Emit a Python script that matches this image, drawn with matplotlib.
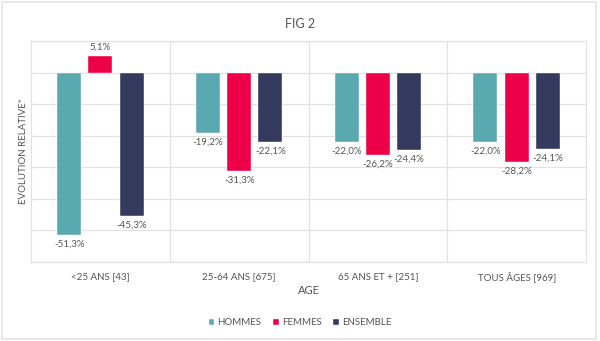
import matplotlib
matplotlib.use("Agg")
import matplotlib.pyplot as plt
from matplotlib.patches import Rectangle
import numpy as np

plt.rcParams['font.family'] = ['Lato', 'DejaVu Sans']

categories = ["<25 ANS [43]", "25-64 ANS [675]", "65 ANS ET + [251]", "TOUS ÂGES [969]"]
series_names = ["HOMMES", "FEMMES", "ENSEMBLE"]
hommes = [-51.3, -19.2, -22.0, -22.0]
femmes = [5.1, -31.3, -26.2, -28.2]
ensemble = [-45.3, -22.1, -24.4, -24.1]
colors = ["#5aa9b0", "#ee0048", "#333a5e"]

fig = plt.figure(figsize=(6, 3.41), dpi=100)
fig.patches.append(Rectangle((0.004, 0.006), 0.99, 0.987, transform=fig.transFigure,
                             fill=False, edgecolor="#e4e4e4", linewidth=1.2))
ax = fig.add_axes([0.0517, 0.2317, 0.925, 0.648])

x = np.arange(len(categories))
w = 0.172
step = 0.225
txtcol = "#555555"
for i, (vals, name, c) in enumerate(zip([hommes, femmes, ensemble], series_names, colors)):
    pos = x + (i - 1) * step
    ax.bar(pos, vals, width=w, color=c, label=name, zorder=3, edgecolor="white", linewidth=0.3)
    for p, v in zip(pos, vals):
        lab = f"{v:.1f}%".replace(".", ",")
        if v >= 0:
            ax.text(p, v + 1.5, lab, ha="center", va="bottom", fontsize=7, color=txtcol)
        else:
            ax.text(p, v - 1.5, lab, ha="center", va="top", fontsize=7, color=txtcol)

ax.set_xlim(-0.5, len(categories) - 0.5)
ax.set_ylim(-60, 10)
ax.set_yticks(np.arange(-60, 11, 10))
ax.set_yticklabels([])
ax.tick_params(axis="y", length=0)
ax.set_xticks(x)
ax.set_xticklabels(categories, fontsize=7, color=txtcol)
ax.tick_params(axis="x", length=0, pad=7)
ax.set_xticks(np.arange(0.5, len(categories) - 0.5, 1), minor=True)
ax.tick_params(axis="x", which="minor", length=0)
ax.grid(axis="y", color="#e2e2e2", linewidth=0.9, zorder=0)
ax.grid(axis="x", which="minor", color="#e2e2e2", linewidth=0.9, zorder=0)
for s in ax.spines.values():
    s.set_color("#e2e2e2")
    s.set_linewidth(0.9)

ax.set_xlabel("AGE", fontsize=8, color=txtcol, labelpad=2)
ax.set_ylabel("EVOLUTION RELATIVE*", fontsize=7, color=txtcol, labelpad=-1)
fig.text(0.5, 0.93, "FIG 2", ha="center", va="center", fontsize=9, color=txtcol)

leg = fig.legend(loc="center", bbox_to_anchor=(0.5, 0.053), ncol=3, frameon=False,
                 fontsize=7, handlelength=0.6, handleheight=0.6, handletextpad=0.3,
                 columnspacing=1.2, labelcolor=txtcol)

fig.savefig("out.png", dpi=100)
